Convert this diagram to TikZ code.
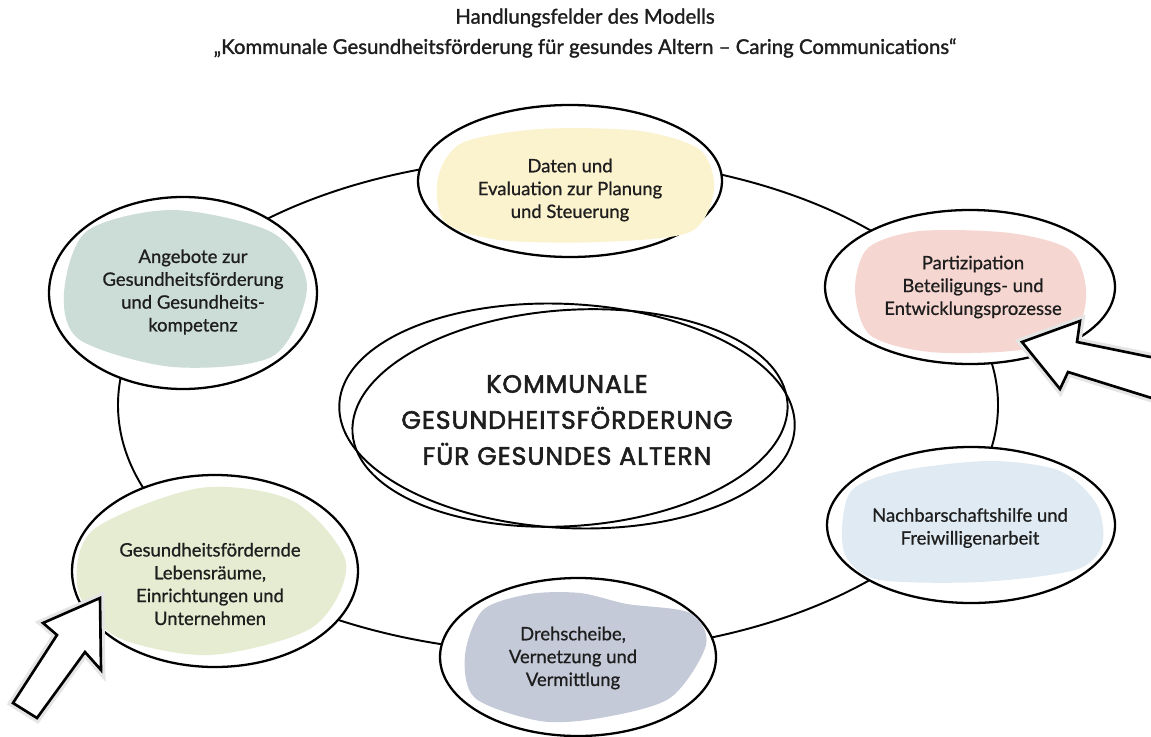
\documentclass[tikz,border=0pt]{standalone}
\usepackage{fontspec}
\setmainfont{Lato}[FakeBold=0.8]
\newfontfamily\kopffont{Lato}[FakeBold=1.4]
\newfontfamily\mittefont{Poppins}[LetterSpace=4,FakeBold=2.2]
\usepackage{tikz}
\usetikzlibrary{calc}
\definecolor{FeldGelb}{HTML}{FBF2CE}
\definecolor{FeldRosa}{HTML}{F6D6D1}
\definecolor{FeldBlau}{HTML}{DFEAF2}
\definecolor{FeldGrau}{HTML}{C5CAD8}
\definecolor{FeldGruen}{HTML}{E6ECD1}
\definecolor{FeldPetrol}{HTML}{CCDCD6}
\definecolor{Schrift}{HTML}{1E1E1E}

\begin{document}
\begin{tikzpicture}[x=0.02cm,y=-0.02cm,
  rand/.style={draw=black,fill=white,line width=1.3pt},
  feldtext/.style={align=center,text=Schrift,font=\fontsize{10.5}{13}\selectfont},
  pfeil/.style={fill=white,draw=black,line width=1.5pt,line join=miter,
    preaction={draw=black!10,line width=5pt}}]
  \useasboundingbox (0,0) rectangle (1151,736);
  % Titel
  \node[text=Schrift,font=\kopffont\fontsize{11.6}{14}\selectfont] (titel) at (585,18) {Handlungsfelder des Modells};
  \node[text=Schrift,font=\kopffont\fontsize{11.6}{14}\selectfont] (untertitel) at (585,48)
    {„Kommunale Gesundheitsförderung für gesundes Altern – Caring Communications“};
  % Kreisbahn
  \draw[line width=1.1pt] (558,405) ellipse [x radius=440, y radius=248];
  % Mitte
  \draw[line width=1.1pt,fill=white,rotate around={-3:(567,416)}] (567,416) ellipse [x radius=228, y radius=112];
  \draw[line width=1.1pt,rotate around={4:(570,418)}] (570,418) ellipse [x radius=218, y radius=108];
  \node[align=center,text=Schrift,font=\mittefont\fontsize{14.3}{20.5}\selectfont] (mitte) at (567,420)
    {KOMMUNALE\\GESUNDHEITSFÖRDERUNG\\ FÜR GESUNDES ALTERN};
  % Daten
  \draw[rand] (570,181) ellipse [x radius=152, y radius=76];
  \fill[FeldGelb] plot[smooth cycle] coordinates {(438,178) (462,143) (540,129) (640,131) (700,150) (714,190) (690,232) (600,242) (500,240) (445,222)};
  \node[feldtext] (daten) at (570,190) {Daten und\\Evaluation zur Planung\\und Steuerung};
  % Partizipation
  \draw[rand] (970,287) ellipse [x radius=145, y radius=77];
  \fill[FeldRosa] plot[smooth cycle] coordinates {(855,290) (868,248) (920,231) (1010,233) (1070,250) (1086,290) (1075,330) (1020,350) (930,352) (870,335)};
  \node[feldtext] (partizipation) at (973,287) {Partizipation\\Beteiligungs- und\\Entwicklungsprozesse};
  % Nachbarschaft
  \draw[rand] (971,525) ellipse [x radius=144, y radius=78];
  \fill[FeldBlau] plot[smooth cycle] coordinates {(842,530) (852,490) (900,471) (990,461) (1060,471) (1097,505) (1102,545) (1075,570) (980,582) (880,580) (848,560)};
  \node[feldtext] (nachbarschaft) at (970,528) {Nachbarschaftshilfe und\\Freiwilligenarbeit};
  % Drehscheibe
  \draw[rand] (578,657) ellipse [x radius=138, y radius=79];
  \fill[FeldGrau] plot[smooth cycle] coordinates {(465,655) (483,610) (530,594) (580,593) (627,604) (690,613) (706,645) (670,698) (600,718) (540,721) (475,698)};
  \node[feldtext] (drehscheibe) at (573,658) {Drehscheibe,\\Vernetzung und\\Vermittlung};
  % Lebensraeume
  \draw[rand] (215,571) ellipse [x radius=143, y radius=96];
  \fill[FeldGruen] plot[smooth cycle] coordinates {(78,590) (93,530) (200,488) (293,501) (346,563) (313,627) (210,655) (117,637)};
  \node[feldtext] (lebensraeume) at (210,584) {Gesundheitsfördernde\\Lebensräume,\\Einrichtungen und\\Unternehmen};
  % Angebote
  \draw[rand] (183,293) ellipse [x radius=134, y radius=96];
  \fill[FeldPetrol] plot[smooth cycle] coordinates {(64,293) (87,231) (173,210) (273,233) (307,287) (273,356) (173,367) (80,340)};
  \node[feldtext] (angebote) at (193,292) {Angebote zur\\Gesundheitsförderung\\und Gesundheits-\\kompetenz};
  % Pfeile
  \draw[pfeil] (1022,342) -- (1080,321) -- (1077,342) -- (1165,360) -- (1158,400) -- (1068,372) -- (1060,389) -- cycle;
  \draw[pfeil] (100,598) -- (101,670) -- (85,652) -- (37,718) -- (13,703) -- (57,635) -- (43,623) -- cycle;
\end{tikzpicture}
\end{document}
